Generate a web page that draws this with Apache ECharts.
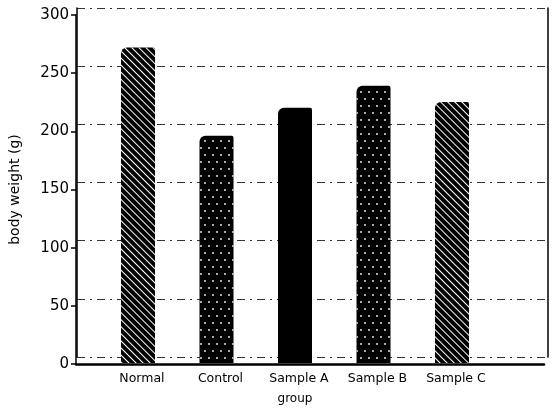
<!DOCTYPE html>
<html><head><meta charset="utf-8">
<script src="https://cdn.jsdelivr.net/npm/echarts@6/dist/echarts.min.js"></script>
<style>html,body{margin:0;padding:0;background:#fff}#c{width:554px;height:410px}</style>
</head><body><div id="c"></div>
<script>
var categories = ['Normal', 'Control', 'Sample A', 'Sample B', 'Sample C'];
var bodyWeight = [272, 196, 220, 239, 225];
var yTicks = [0, 50, 100, 150, 200, 250, 300];
var patterns = ['hatch', 'dots', 'solid', 'dots', 'hatch'];

var FONT = 'DejaVu Sans';
function decalFor(p) {
  if (p === 'hatch') return {color: '#fff', symbol: 'rect', dashArrayX: [1, 0], dashArrayY: [1, 4], rotation: Math.PI / 4};
  if (p === 'dots') return {color: '#fff', symbol: 'circle', symbolSize: 0.9, dashArrayX: [[2, 6], [0, 4, 2, 2]], dashArrayY: [2, 5]};
  return {color: 'rgba(0,0,0,0)', symbol: 'none'};
}
var barData = bodyWeight.map(function (v, i) {
  return {value: v, itemStyle: {color: '#000', decal: decalFor(patterns[i])}};
});

var chart = echarts.init(document.getElementById('c'), null, {renderer: 'canvas'});
chart.setOption({
  animation: false,
  backgroundColor: '#fff',
  grid: [
    {left: 70, right: 10, top: 15, bottom: 46},
    {left: 77, right: 6, top: 8, bottom: 53},
    {left: 98.75, right: 62.75, top: 15, bottom: 46}
  ],
  xAxis: [
    {gridIndex: 0, type: 'category', data: categories, axisLine: {lineStyle: {color: '#000', width: 2.5}}, axisTick: {show: false}, axisLabel: {show: false}},
    {gridIndex: 1, type: 'category', data: categories, axisLine: {show: false}, axisTick: {show: false}, axisLabel: {show: false}},
    {gridIndex: 2, type: 'category', data: categories, axisLine: {show: false}, axisTick: {show: false},
      axisLabel: {interval: 0, hideOverlap: false, color: '#000', fontFamily: FONT, fontSize: 12.5, margin: 9,
        formatter: function (v) { return '  ' + v; }},
      name: 'group', nameLocation: 'middle', nameGap: 30, nameTextStyle: {color: '#000', fontFamily: FONT, fontSize: 12}}
  ],
  yAxis: [
    {gridIndex: 0, type: 'value', min: 0, max: 300, interval: 50,
      axisLine: {show: true, lineStyle: {color: '#000', width: 1.5}},
      axisTick: {show: true, length: 5, lineStyle: {color: '#000', width: 1.5}},
      axisLabel: {color: '#000', fontFamily: FONT, fontSize: 15, margin: 7},
      splitLine: {show: false},
      name: 'body weight (g)', nameLocation: 'middle', nameGap: 54,
      nameTextStyle: {color: '#000', fontFamily: FONT, fontSize: 14}},
    {gridIndex: 1, type: 'value', min: 0, max: 300, interval: 50,
      axisLine: {show: true, lineStyle: {color: '#000', width: 1.5}},
      axisTick: {show: false}, axisLabel: {show: false},
      splitLine: {show: true, lineStyle: {color: '#333', width: 1, type: [8, 5, 2, 5]}}},
    {gridIndex: 1, type: 'value', position: 'right', min: 0, max: 300, interval: 50,
      axisLine: {show: true, lineStyle: {color: '#000', width: 1.5}},
      axisTick: {show: false}, axisLabel: {show: false}, splitLine: {show: false}},
    {gridIndex: 2, type: 'value', min: 0, max: 300, interval: 50, show: false}
  ],
  series: [{
    type: 'bar', xAxisIndex: 2, yAxisIndex: 3,
    data: barData, barWidth: 34,
    itemStyle: {borderRadius: [6, 2, 0, 0]}
  }]
});
</script></body></html>
